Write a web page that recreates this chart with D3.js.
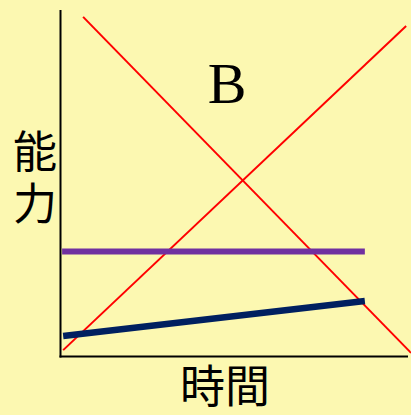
<!DOCTYPE html>
<html>
<head>
<meta charset="utf-8">
<script src="https://cdn.jsdelivr.net/npm/d3@7"></script>
<style>
  html, body { margin: 0; padding: 0; background: #FCF8B1; }
</style>
</head>
<body>
<script>
// 直线数据 (数据坐标 0-100)
var redDown = [[6.6, 98], [100.3, 0.9]];
var redUp = [[0.9, 1.7], [98.9, 95.4]];
var purpleLine = [[0.6, 30.2], [87.1, 30.2]];
var navyLine = [[0.9, 5.8], [87.1, 15.9]];
var labels = { title: 'B', yLabel: '能力', xLabel: '時間' };

var width = 411, height = 415;
var x = d3.scaleLinear().domain([0, 100]).range([60, 410]);
var y = d3.scaleLinear().domain([0, 100]).range([356, 10]);

var svg = d3.select("body").append("svg").attr("width", width).attr("height", height);
svg.append("rect").attr("width", width).attr("height", height).attr("fill", "#FCF8B1");

var line = d3.line().x(function (d) { return x(d[0]); }).y(function (d) { return y(d[1]); });

// 坐标轴
svg.append("line").attr("x1", x(0) + 0.5).attr("y1", 10).attr("x2", x(0) + 0.5).attr("y2", 357.5)
    .attr("stroke", "#000").attr("stroke-width", 2);
svg.append("line").attr("x1", x(0) - 0.5).attr("y1", 356.5).attr("x2", 408).attr("y2", 356.5)
    .attr("stroke", "#000").attr("stroke-width", 2);

// 红色交叉线
[redDown, redUp].forEach(function (d) {
    svg.append("path").attr("d", line(d)).attr("fill", "none").attr("stroke", "#FF0000").attr("stroke-width", 2);
});

// 紫线
svg.append("path").attr("d", line(purpleLine)).attr("fill", "none").attr("stroke", "#7030A0").attr("stroke-width", 6);
// 深蓝线
svg.append("path").attr("d", line(navyLine)).attr("fill", "none").attr("stroke", "#002060").attr("stroke-width", 6.5);

// 文字
svg.append("text").attr("x", 227).attr("y", 103).text(labels.title)
    .attr("font-family", "Liberation Serif, serif").attr("font-size", 58).attr("text-anchor", "middle").attr("fill", "#000");

// 纵向文字
svg.append("text").attr("x", 35).attr("y", 129).text(labels.yLabel)
    .style("writing-mode", "vertical-rl").attr("letter-spacing", 8)
    .attr("font-family", "Noto Sans CJK JP").attr("font-size", 44).attr("fill", "#000");

svg.append("text").attr("x", 225).attr("y", 403).text(labels.xLabel)
    .attr("font-family", "Noto Sans CJK JP").attr("font-size", 45).attr("text-anchor", "middle").attr("fill", "#000");
</script>
</body>
</html>
